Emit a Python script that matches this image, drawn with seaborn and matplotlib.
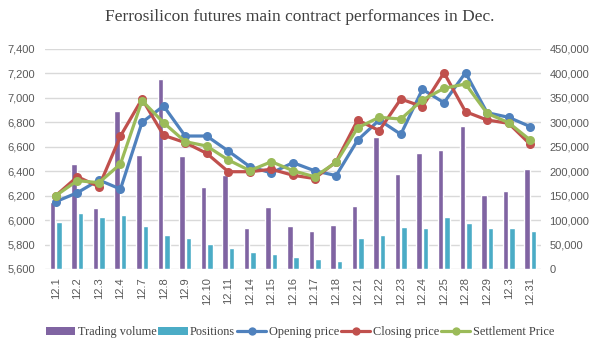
import numpy as np
import pandas as pd
import seaborn as sns
import matplotlib.pyplot as plt
from matplotlib.patches import Patch
from matplotlib.lines import Line2D

dates = ["12.1", "12.2", "12.3", "12.4", "12.7", "12.8", "12.9", "12.10", "12.11",
         "12.14", "12.15", "12.16", "12.17", "12.18", "12.21", "12.22", "12.23",
         "12.24", "12.25", "12.28", "12.29", "12.3", "12.31"]
volume = [137700, 214800, 124800, 323200, 233200, 388600, 231100, 167700, 192300,
          83900, 126800, 88000, 77700, 90000, 128900, 270000, 194300,
          237300, 243400, 292500, 151400, 159500, 204500]
positions = [96100, 114500, 106400, 110500, 88000, 69500, 63400, 51100, 43000,
             34800, 30700, 24500, 20500, 16400, 63400, 69500, 85900,
             83900, 106400, 94100, 83900, 83900, 77700]
opening = [6151, 6224, 6328, 6254, 6800, 6934, 6688, 6688, 6565,
           6437, 6386, 6470, 6404, 6364, 6655, 6819, 6702,
           7070, 6961, 7206, 6879, 6841, 6765]
closing = [6200, 6355, 6274, 6688, 6991, 6694, 6634, 6546, 6396,
           6396, 6416, 6367, 6340, 6478, 6819, 6732, 6991,
           6928, 7206, 6887, 6819, 6792, 6620]
settlement = [6200, 6323, 6306, 6459, 6977, 6797, 6642, 6606, 6492,
              6405, 6478, 6404, 6355, 6472, 6756, 6841, 6827,
              6983, 7078, 7114, 6874, 6797, 6655]

bar_names = ["Trading volume", "Positions"]
line_names = ["Opening price", "Closing price", "Settlement Price"]
bar_colors = ["#8064A2", "#4BACC6"]
line_colors = ["#4F81BD", "#C0504D", "#9BBB59"]

idx = list(range(len(dates)))
df_bars = pd.DataFrame({
    "idx": idx * 2,
    "value": volume + positions,
    "series": [bar_names[0]] * len(dates) + [bar_names[1]] * len(dates),
})
df_lines = pd.DataFrame({
    "idx": idx * 3,
    "value": opening + closing + settlement,
    "series": sum([[n] * len(dates) for n in line_names], []),
})

sns.set_theme(style="white")
plt.rcParams["font.family"] = ["Liberation Sans", "DejaVu Sans"]

W, H = 599, 349
fig = plt.figure(figsize=(W / 100, H / 100), dpi=100)
ax = fig.add_axes([45 / W, 80 / H, 496 / W, 220 / H])
ax2 = ax.twinx()

sns.barplot(data=df_bars, x="idx", y="value", hue="series", palette=bar_colors,
            hue_order=bar_names, width=0.6, gap=0.15, saturation=1, ax=ax2,
            legend=False, errorbar=None)
sns.lineplot(data=df_lines, x="idx", y="value", hue="series", palette=line_colors,
             hue_order=line_names, marker="o", markersize=6.5, linewidth=2.3,
             markeredgewidth=0, ax=ax, legend=False)

ax.set_zorder(ax2.get_zorder() + 1)
ax.patch.set_visible(False)

ax.set_ylim(5600, 7400)
ax.set_yticks(np.arange(5600, 7401, 200))
ax.set_yticklabels([f"{v:,}" for v in range(5600, 7401, 200)])
ax2.set_ylim(0, 450000)
ax2.set_yticks(np.arange(0, 450001, 50000))
ax2.set_yticklabels([f"{v:,}" for v in range(0, 450001, 50000)])

ax.set_xlim(-0.5, len(dates) - 0.5)
ax.set_xticks(idx)
ax.set_xticklabels(dates, rotation=90)

ax2.grid(axis="y", color="#D9D9D9", linewidth=1)
ax2.set_axisbelow(True)
ax.grid(False)

for a in (ax, ax2):
    for s in a.spines.values():
        s.set_visible(False)
    a.set_xlabel("")
    a.set_ylabel("")

ax.tick_params(axis="y", length=0, pad=7, labelsize=8, labelcolor="#595959")
ax.tick_params(axis="x", length=0, pad=6, labelsize=8, labelcolor="#595959")
ax2.tick_params(axis="y", length=0, pad=6, labelsize=8, labelcolor="#595959")

fig.text(0.5, 1 - 17 / H, "Ferrosilicon futures main contract performances in Dec.",
         ha="center", va="center", family="Liberation Serif", fontsize=12.5,
         color="#404040")

handles = [Patch(facecolor=c, edgecolor="none") for c in bar_colors] + \
          [Line2D([], [], color=c, lw=2.3, marker="o", markersize=6, markeredgewidth=0)
           for c in line_colors]
labels = bar_names + line_names
fig.legend(handles, labels, loc="center", bbox_to_anchor=(300 / W, 1 - 332 / H),
           ncol=5, frameon=False, prop={"family": "Liberation Serif", "size": 8.8},
           handlelength=2.4, handleheight=0.6, columnspacing=0.15, handletextpad=0.2,
           labelcolor="#404040")

fig.savefig("out.png", dpi=100)
